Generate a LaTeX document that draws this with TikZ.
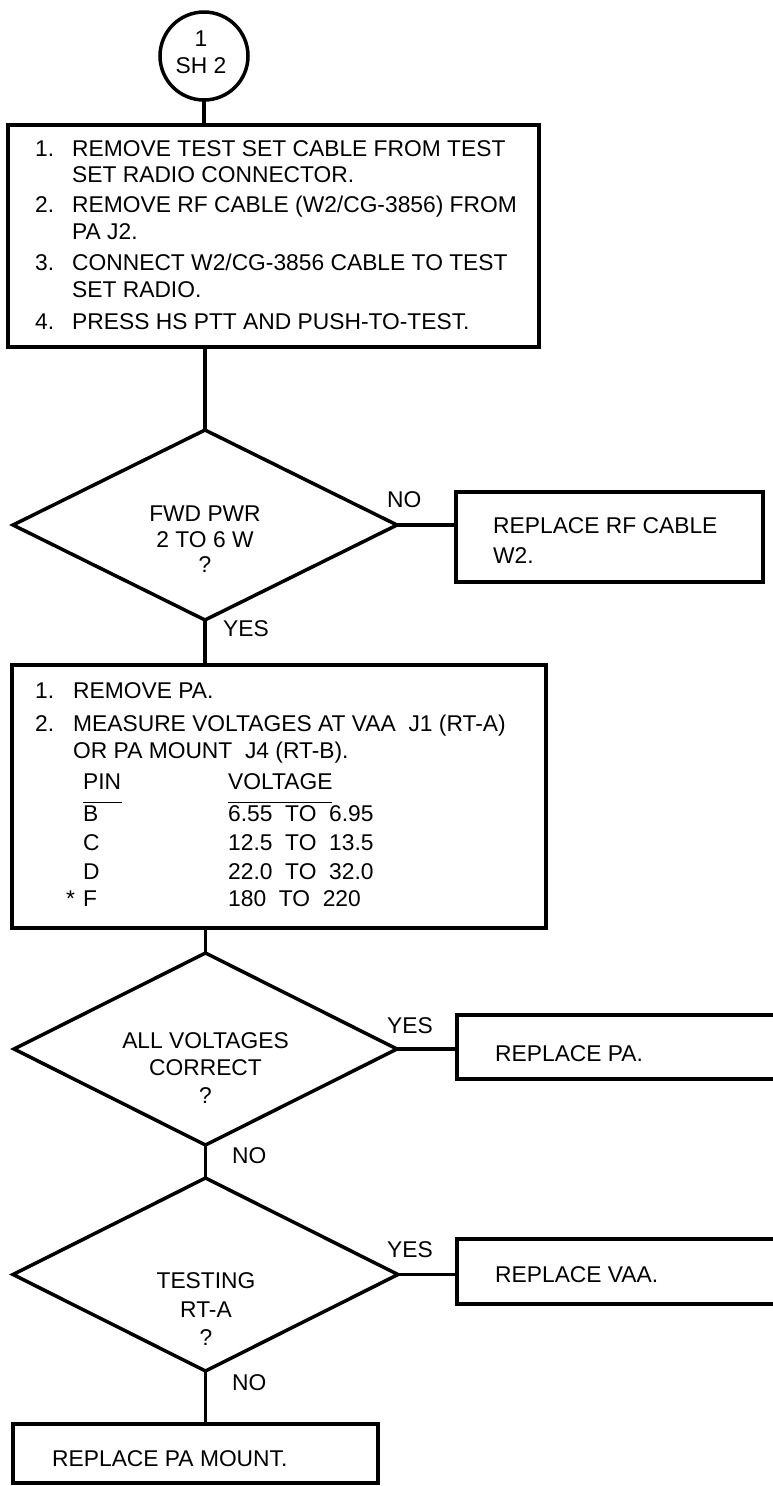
\documentclass[tikz,border=0pt]{standalone}
\usepackage{fontspec}
\setmainfont{Liberation Sans}
\usetikzlibrary{shapes.geometric}
\tikzset{
  ln/.style={line width=3.5pt},
  boxnode/.style={draw, line width=3.2pt, rectangle, inner sep=0pt, outer sep=0pt},
  dia/.style={draw, line width=3.5pt, diamond, inner sep=0pt, outer sep=0pt},
  tx/.style={font=\fontsize{22.8}{27}\selectfont, inner sep=0pt, anchor=base west},
  tc/.style={font=\fontsize{22.8}{27}\selectfont, inner sep=0pt, anchor=base},
}
\begin{document}
\begin{tikzpicture}[x=1pt,y=-1pt]
\useasboundingbox (0,0) rectangle (773,1486);
\clip (0,0) rectangle (773,1486);
\fill[white] (0,0) rectangle (773,1486);

% start circle
\node[draw, circle, line width=3.5pt, minimum size=88pt, inner sep=0pt, outer sep=0pt] (c0) at (204,56) {};
\node[tc] (c0a) at (201,46.2) {1};
\node[tc] (c0b) at (201,73.2) {SH 2};

% box 1
\node[boxnode, minimum width=531pt, minimum height=222pt] (b1) at (273.5,236) {};
\draw[ln] (c0.south) -- (c0.south |- b1.north);
\node[tx] (b1n1) at (35,156.2) {1.};
\node[tx] (b1l1) at (72,156.2) {REMOVE TEST SET CABLE FROM TEST};
\node[tx] (b1l2) at (72,182.2) {SET RADIO CONNECTOR.};
\node[tx] (b1n2) at (35,212.2) {2.};
\node[tx] (b1l3) at (72,212.2) {REMOVE RF CABLE (W2/CG-3856) FROM};
\node[tx] (b1l4) at (72,239.2) {PA J2.};
\node[tx] (b1n3) at (35,270.2) {3.};
\node[tx] (b1l5) at (72,270.2) {CONNECT W2/CG-3856 CABLE TO TEST};
\node[tx] (b1l6) at (72,297.2) {SET RADIO.};
\node[tx] (b1n4) at (35,329.2) {4.};
\node[tx] (b1l7) at (72,329.2) {PRESS HS PTT AND PUSH-TO-TEST.};

% diamond 1
\node[dia, minimum width=384pt, minimum height=190pt] (d1) at (205,525) {};
\draw[ln] (b1.south -| d1.north) -- (d1.north);
\node[tc] (d1a) at (205,521.2) {FWD PWR};
\node[tc] (d1b) at (205,547.2) {2 TO 6 W};
\node[tc] (d1c) at (205,572.2) {?};
\node[tx] (d1no) at (387,507.2) {NO};
\node[tx] (d1yes) at (223,636.2) {YES};

% replace RF cable
\node[boxnode, minimum width=307pt, minimum height=90pt] (rf) at (609.5,537) {};
\draw[ln] (d1.east) -- (d1.east -| rf.west);
\node[tx] (rfa) at (493,533.2) {REPLACE RF CABLE};
\node[tx] (rfb) at (493,563.2) {W2.};

% box 2
\node[boxnode, minimum width=534pt, minimum height=263pt] (b2) at (279,796.5) {};
\draw[ln] (d1.south) -- (d1.south |- b2.north);
\node[tx] (b2n1) at (35,698.2) {1.};
\node[tx] (b2l1) at (73,698.2) {REMOVE PA.};
\node[tx] (b2n2) at (35,731.2) {2.};
\node[tx] (b2l2) at (73,731.2) {MEASURE VOLTAGES AT VAA\ \ J1 (RT-A)};
\node[tx] (b2l3) at (73,758.2) {OR PA MOUNT\ \ J4 (RT-B).};
\node[tx] (pinh) at (83,789.2) {PIN};
\node[tx] (volh) at (228,789.2) {VOLTAGE};
\draw[line width=1.2pt] (pinh.base west) ++(0,13) coordinate (pu1) -- ++(39,0) coordinate (pu2);
\draw[line width=1.2pt] (volh.base west) ++(0,13) coordinate (vu1) -- ++(104,0) coordinate (vu2);
\node[tx] (pb) at (83,821.2) {B};
\node[tx] (pc) at (83,850.2) {C};
\node[tx] (pd) at (83,879.2) {D};
\node[tx] (pf) at (83,906.2) {F};
\node[tx] (ast) at (66,906.2) {*};
\node[tx] (vb) at (228,821.2) {6.55\ \ TO\ \ 6.95};
\node[tx] (vc) at (228,850.2) {12.5\ \ TO\ \ 13.5};
\node[tx] (vd) at (228,879.2) {22.0\ \ TO\ \ 32.0};
\node[tx] (vf) at (228,906.2) {180\ \ TO\ \ 220};

% diamond 2
\node[dia, minimum width=383pt, minimum height=192pt] (d2) at (205.5,1049) {};
\draw[ln] (b2.south -| d2.north) -- (d2.north);
\node[tc] (d2a) at (205.5,1048.2) {ALL VOLTAGES};
\node[tc] (d2b) at (205.5,1075.2) {CORRECT};
\node[tc] (d2c) at (205.5,1103.2) {?};
\node[tx] (d2yes) at (387,1033.2) {YES};
\node[tx] (d2no) at (232,1163.2) {NO};

% replace PA
\node[boxnode, minimum width=343pt, minimum height=64pt] (pa) at (628.5,1047) {};
\draw[ln] (d2.east) -- (d2.east -| pa.west);
\node[tx] (paa) at (495,1061.2) {REPLACE PA.};

% diamond 3
\node[dia, minimum width=385pt, minimum height=193pt] (d3) at (205.5,1274.5) {};
\draw[ln] (d2.south) -- (d3.north);
\node[tc] (d3a) at (206,1288.2) {TESTING};
\node[tc] (d3b) at (206,1317.2) {RT-A};
\node[tc] (d3c) at (206,1345.2) {?};
\node[tx] (d3yes) at (387,1257.2) {YES};
\node[tx] (d3no) at (232,1390.2) {NO};

% replace VAA
\node[boxnode, minimum width=343pt, minimum height=65pt] (vaa) at (628.5,1271.5) {};
\draw[ln] (d3.east) -- (d3.east -| vaa.west);
\node[tx] (vaaa) at (495,1282.2) {REPLACE VAA.};

% replace PA mount
\node[boxnode, minimum width=365pt, minimum height=59pt] (pm) at (195.5,1453.5) {};
\draw[ln] (d3.south) -- (d3.south |- pm.north);
\node[tx] (pma) at (52,1466.2) {REPLACE PA MOUNT.};
\end{tikzpicture}
\end{document}
